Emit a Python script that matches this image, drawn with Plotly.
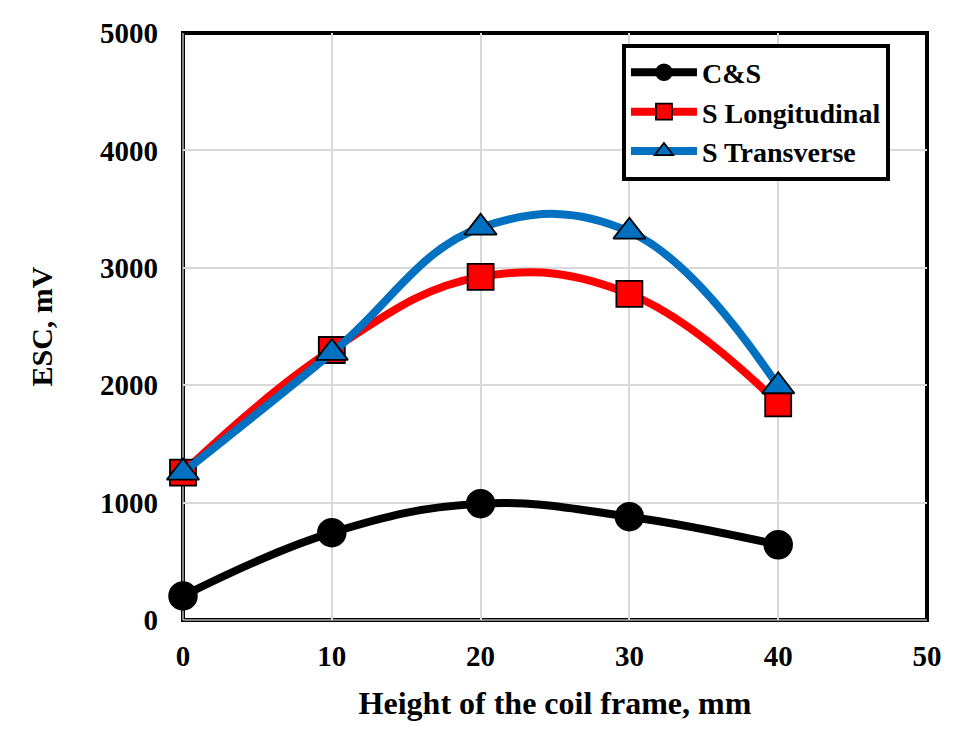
import plotly.graph_objects as go

heights = [0, 10, 20, 30, 40]
cs_values = [205, 744, 991, 880, 641]
s_long_values = [1256, 2300, 2923, 2778, 1846]
s_trans_values = [1256, 2275, 3342, 3308, 1991]
series_names = ["C&S", "S Longitudinal", "S Transverse"]
x_ticks = [0, 10, 20, 30, 40, 50]
y_ticks = [0, 1000, 2000, 3000, 4000, 5000]

FONT = "Liberation Serif"

fig = go.Figure()
fig.add_trace(go.Scatter(
    x=heights, y=cs_values, name=series_names[0], mode="lines+markers",
    line=dict(color="#000000", width=8, shape="spline", smoothing=1.15),
    marker=dict(symbol="circle", size=28, color="#000000",
                line=dict(color="#000000", width=1.5)),
    cliponaxis=False))
fig.add_trace(go.Scatter(
    x=heights, y=s_long_values, name=series_names[1], mode="lines+markers",
    line=dict(color="#FF0000", width=8, shape="spline", smoothing=1.15),
    marker=dict(symbol="square", size=26, color="#FF0000",
                line=dict(color="#000000", width=1.8)),
    cliponaxis=False))
fig.add_trace(go.Scatter(
    x=heights, y=s_trans_values, name=series_names[2], mode="lines+markers",
    line=dict(color="#0070C0", width=8, shape="spline", smoothing=1.15),
    marker=dict(symbol="triangle-up", size=28, color="#0070C0",
                line=dict(color="#000000", width=1.8)),
    cliponaxis=False))

axis_font = dict(family=FONT, size=29, color="#000000", weight="bold")
fig.update_layout(
    width=937, height=720,
    margin=dict(l=175, r=18, t=25, b=108),
    paper_bgcolor="#ffffff", plot_bgcolor="#ffffff",
    showlegend=True,
    legend=dict(x=0.59, y=0.982, xanchor="left", yanchor="top",
                bgcolor="#ffffff", bordercolor="#000000", borderwidth=4,
                font=dict(family=FONT, size=28, color="#000000", weight="bold"),
                itemwidth=66, tracegroupgap=0),
    xaxis=dict(range=[0, 50], tickvals=x_ticks, ticktext=[str(v) for v in x_ticks],
               showgrid=True, gridcolor="#d9d9d9", gridwidth=1.5,
               zeroline=False, showline=False, ticks="", automargin=False,
               ticklabelstandoff=16, tickfont=axis_font, ticklabeloverflow="allow",
               title=dict(text="Height of the coil frame, mm", font=dict(family=FONT, size=32, color="#000000", weight="bold"), standoff=20)),
    yaxis=dict(range=[0, 5000], tickvals=y_ticks, ticktext=[str(v) for v in y_ticks],
               showgrid=True, gridcolor="#d9d9d9", gridwidth=1.5,
               zeroline=False, showline=False, ticks="", automargin=False,
               ticklabelstandoff=24, tickfont=axis_font, ticklabeloverflow="allow",
               title=dict(text="ESC, mV", font=dict(family=FONT, size=30, color="#000000", weight="bold"), standoff=38)),
)

# plot frame: thick black, with a grey inner line on left and bottom
fig.add_shape(type="rect", xref="paper", yref="paper", x0=0, y0=0, x1=1, y1=1,
              line=dict(color="#000000", width=4), layer="between")
fig.add_shape(type="line", xref="paper", yref="paper", x0=0, y0=0, x1=0, y1=1,
              line=dict(color="#b0b0b0", width=1.5), layer="between")
fig.add_shape(type="line", xref="paper", yref="paper", x0=0, y0=0, x1=1, y1=0,
              line=dict(color="#b0b0b0", width=1.5), layer="between")

fig.write_html("out.html")
